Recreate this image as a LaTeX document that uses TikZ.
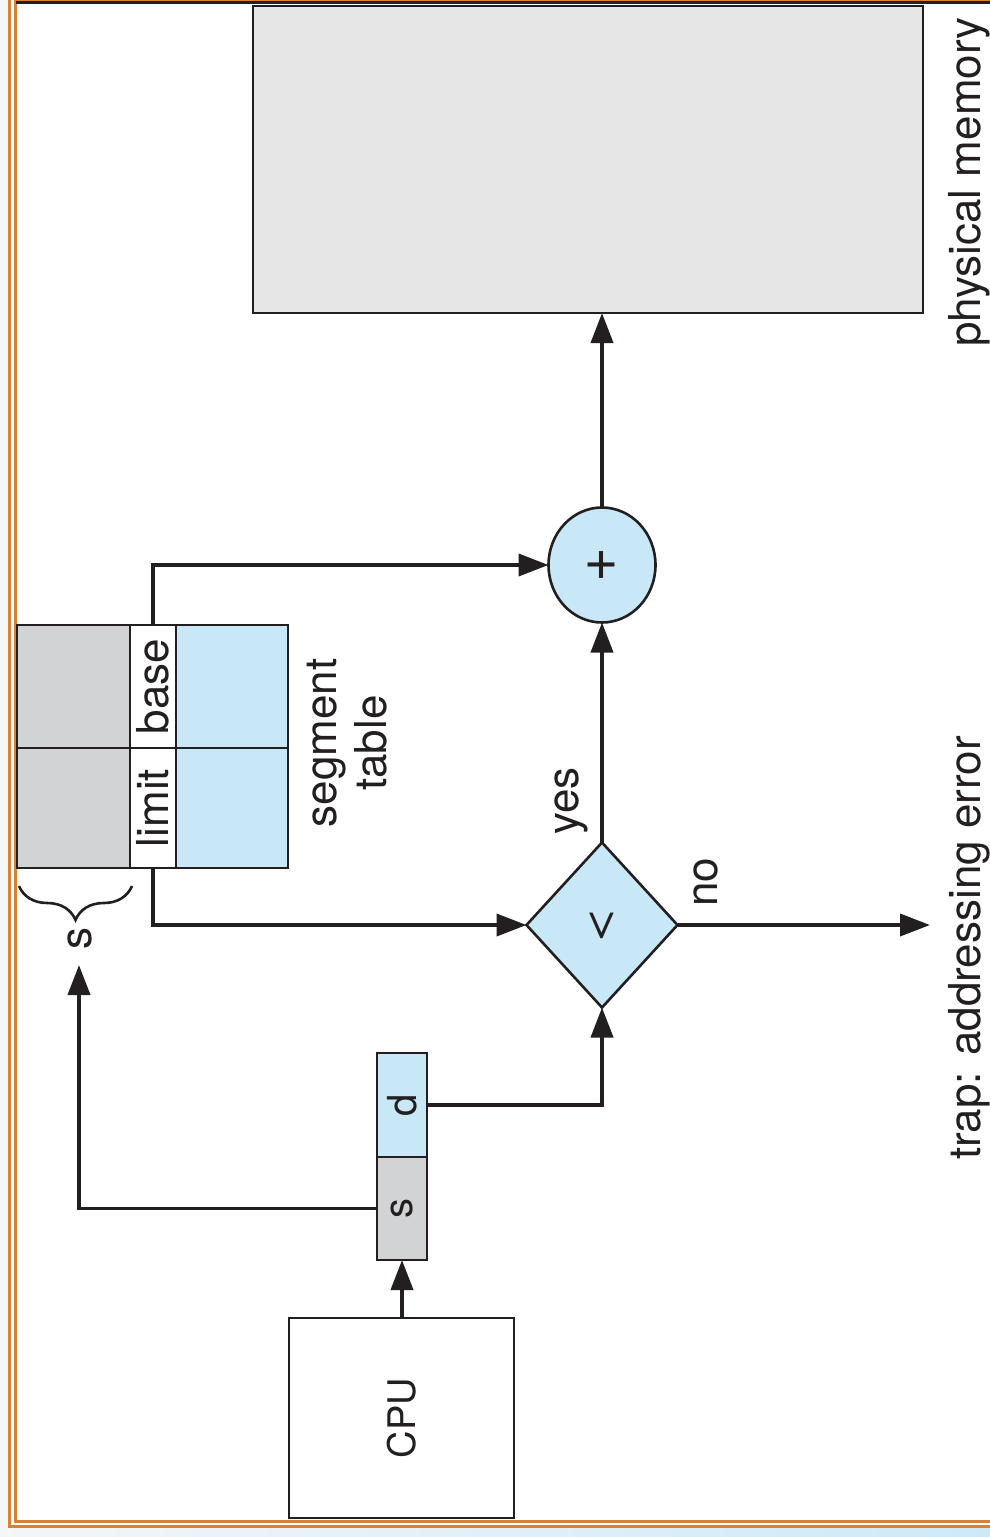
\documentclass[tikz,border=0pt]{standalone}
\usepackage{graphicx}
\usepackage{fontspec}
\setmainfont{TeX Gyre Heros}
\usetikzlibrary{arrows.meta,shapes.geometric,decorations.pathreplacing}
\definecolor{ln}{HTML}{231F20}
\definecolor{cellgrey}{HTML}{D1D3D4}
\definecolor{cellblue}{HTML}{C8E8F8}
\definecolor{memgrey}{HTML}{E6E6E6}
\definecolor{framecol}{HTML}{D98235}
\definecolor{outside}{HTML}{F4F6F8}
\definecolor{bottomblue}{HTML}{CDE9F8}
\begin{document}
\begin{tikzpicture}[x=0.5pt,y=-0.5pt,
  box/.style={draw=ln,line width=1.3pt,inner sep=0pt,outer sep=0pt},
  cell/.style={box,rectangle,font=\fontsize{22}{25}\selectfont,text=ln},
  conn/.style={draw=ln,line width=1.9pt},
  arr/.style={conn,-{Triangle[length=15pt,width=11pt]}},
  lbl/.style={rotate=90,font=\fontsize{22}{25}\selectfont,text=ln,inner sep=0pt}]
% background and frame
\useasboundingbox (0,0) rectangle (990,1537);
\fill[white] (0,0) rectangle (990,1537);
\fill[outside] (0,0) rectangle (8,1537);
\shade[left color=outside,right color=bottomblue] (0,1528) rectangle (990,1537);
\draw[framecol,line width=1.35pt] (9.7,0) -- (9.7,1526.3) -- (990,1526.3);
\draw[framecol,line width=1.5pt] (15,0) -- (15,1521.3) -- (990,1521.3);
\draw[framecol,line width=0.6pt] (15,0.4) -- (990,0.4);
\draw[ln,line width=1.6pt] (16,2.6) -- (990,2.6);
% physical memory
\node[box,fill=memgrey,minimum width=335pt,minimum height=153.5pt] (mem) at (588,159.5) {};
\node[lbl] (memlbl) at (969,182) {physical memory};
% adder
\node[box,ellipse,fill=cellblue,minimum width=53.5pt,minimum height=57.5pt,font=\fontsize{30}{32}\selectfont,text=ln] (plus) at (602,565) {\rotatebox{90}{+}};
% comparator
\node[box,diamond,fill=cellblue,minimum width=75.5pt,minimum height=82.5pt,font=\fontsize{24}{28}\selectfont,text=ln] (cmp) at (602,925) {\rotatebox{90}{\scalebox{1.6}[0.8]{<}}};
% segment table
\node[cell,fill=cellgrey,minimum width=56.5pt,minimum height=61.5pt] (bgrey) at (73.5,686.5) {};
\node[cell,fill=white,minimum width=23pt,minimum height=61.5pt] (base) at (153,686.5) {\rotatebox{90}{base}};
\node[cell,fill=cellblue,minimum width=56pt,minimum height=61.5pt] (bblue) at (232,686.5) {};
\node[cell,fill=cellgrey,minimum width=56.5pt,minimum height=60pt] (lgrey) at (73.5,808) {};
\node[cell,fill=white,minimum width=23pt,minimum height=60pt] (limit) at (153,808) {\rotatebox{90}{limit}};
\node[cell,fill=cellblue,minimum width=56pt,minimum height=60pt] (lblue) at (232,808) {};
\node[lbl,align=center] (seglbl) at (347,743) {segment\\table};
% brace and s label
\draw[ln,line width=1.3pt,decorate,decoration={brace,amplitude=17pt}] (132,886) -- (19,886);
\node[lbl] (slbl) at (80,938) {s};
\coordinate (stip) at (79,965);
% logical address
\node[cell,fill=cellblue,minimum width=25pt,minimum height=52pt,font=\fontsize{20}{24}\selectfont] (d) at (402,1105) {\rotatebox{90}{d}};
\node[cell,fill=cellgrey,minimum width=25pt,minimum height=51.5pt,font=\fontsize{20}{24}\selectfont] (sa) at (402,1208.5) {\rotatebox{90}{s}};
% CPU
\node[cell,fill=white,minimum width=112.5pt,minimum height=100pt,font=\fontsize{19}{23}\selectfont] (cpu) at (401.5,1418) {\rotatebox{90}{CPU}};
% connectors
\draw[arr] (cpu.north -| sa.south) -- (sa.south);
\draw[arr] (sa.west) -| (stip);
\draw[arr] (d.east) -| (cmp.south);
\draw[arr] (limit.south) |- (cmp.west);
\draw[arr] (base.north) |- (plus.west);
\draw[arr] (cmp.north) -- (plus.south);
\draw[arr] (plus.north) -- (plus.north |- mem.south);
\coordinate (traptip) at (930,925);
\draw[arr] (cmp.east) -- (traptip);
% labels
\node[lbl] (yes) at (571,801) {yes};
\node[lbl] (no) at (706,882) {no};
\node[lbl] (trap) at (969,948) {trap: addressing error};
\end{tikzpicture}
\end{document}
